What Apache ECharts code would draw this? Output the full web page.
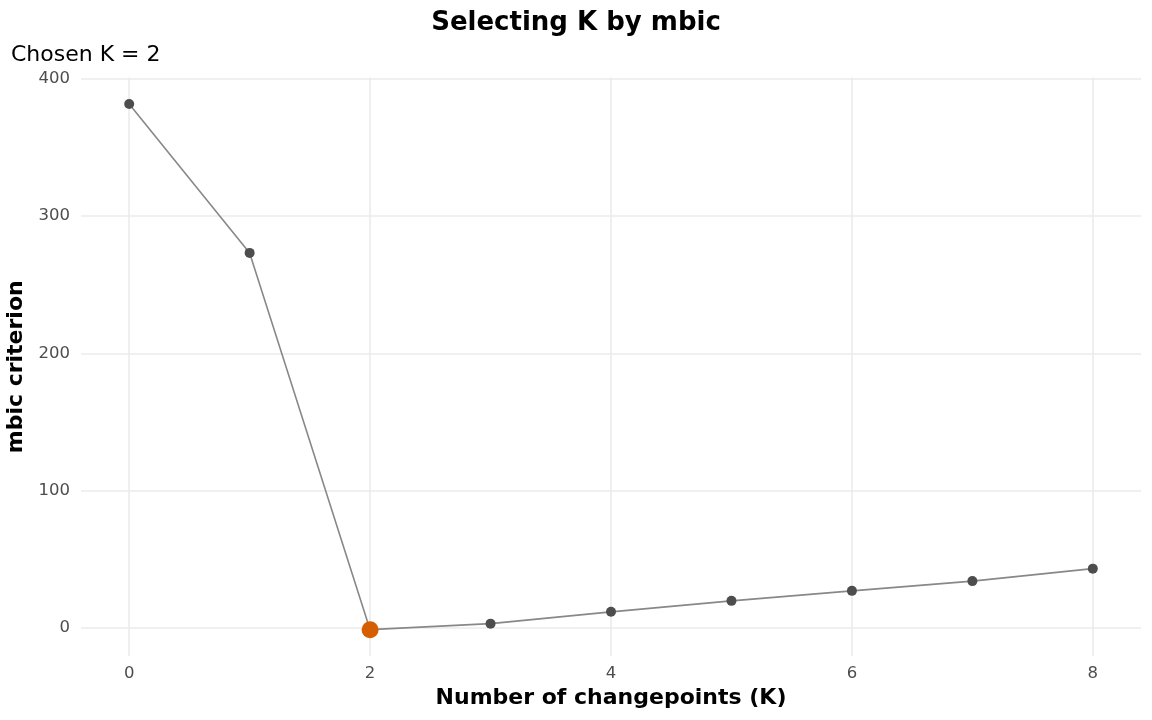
<!DOCTYPE html>
<html>
<head>
<meta charset="utf-8">
<script src="https://cdn.jsdelivr.net/npm/echarts@6/dist/echarts.min.js"></script>
<style>
	html, body { margin: 0; padding: 0; background: #fff; }
	#main { width: 1152px; height: 720px; }
</style>
</head>
<body>
<div id="main"></div>
<script>
// values
const kValues = [0, 1, 2, 3, 4, 5, 6, 7, 8]
const mbicValues = [381.8, 273.2, -1.5, 2.9, 11.5, 19.5, 26.8, 33.9, 43.0]
const chosenK = 2
const xTicks = [0, 2, 4, 6, 8]
const yTicks = [0, 100, 200, 300, 400]

const chart = (function() {
	const font = 'DejaVu Sans'
	const gridColor = '#ebebeb'

	const lineData = kValues.map((k, i) => [k, mbicValues[i]])
	const chosenData = [[chosenK, mbicValues[kValues.indexOf(chosenK)]]]

	const option = {
		animation: false,
		backgroundColor: '#fff',
		title: [
			{
				text: 'Selecting K by mbic',
				left: 'center',
				top: 5,
				textStyle: { fontFamily: font, fontSize: 26, fontWeight: 'bold', color: '#000' }
			},
			{
				text: 'Chosen K = 2',
				left: 6,
				top: 39.5,
				textStyle: { fontFamily: font, fontSize: 22, fontWeight: 'normal', color: '#000' }
			}
		],
		grid: {
			left: 81,
			right: 11,
			top: 77.6,
			bottom: 64,
			outerBoundsMode: 'none',
			containLabel: false
		},
		xAxis: {
			type: 'value',
			min: -0.4,
			max: 8.4,
			name: 'Number of changepoints (K)',
			nameLocation: 'middle',
			nameGap: 30,
			nameTextStyle: { fontFamily: font, fontSize: 22, fontWeight: 'bold', color: '#000' },
			axisLine: { show: false },
			axisTick: { show: false, customValues: xTicks },
			splitLine: { show: true, lineStyle: { color: gridColor, width: 1.6 } },
			axisLabel: {
				customValues: xTicks,
				margin: 9,
				fontFamily: font,
				fontSize: 16.5,
				color: '#4d4d4d'
			}
		},
		yAxis: {
			type: 'value',
			min: -20.7,
			max: 401,
			name: 'mbic criterion',
			nameLocation: 'middle',
			nameGap: 49,
			nameRotate: 90,
			nameTextStyle: { fontFamily: font, fontSize: 22, fontWeight: 'bold', color: '#000' },
			axisLine: { show: false },
			axisTick: { show: false, customValues: yTicks },
			splitLine: { show: true, lineStyle: { color: gridColor, width: 1.6 } },
			axisLabel: {
				customValues: yTicks,
				margin: 11,
				fontFamily: font,
				fontSize: 16.5,
				color: '#4d4d4d'
			}
		},
		series: [
			{
				type: 'line',
				data: lineData,
				z: 3,
				symbol: 'circle',
				symbolSize: 10,
				itemStyle: { color: '#4d4d4d' },
				lineStyle: { color: '#888888', width: 1.6 }
			},
			{
				type: 'scatter',
				data: chosenData,
				z: 4,
				symbolSize: 17,
				itemStyle: { color: '#D55E00', opacity: 1 }
			}
		]
	}

	const myChart = echarts.init(document.getElementById('main'))
	myChart.setOption(option)
	return myChart
})()
</script>
</body>
</html>
